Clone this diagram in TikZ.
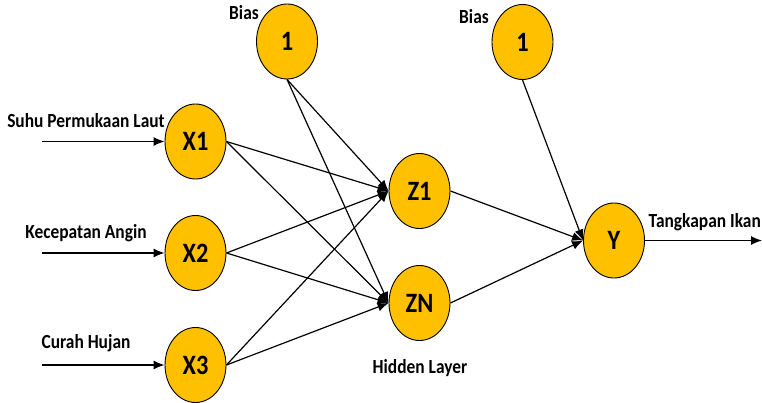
\documentclass[tikz,border=0pt]{standalone}
\usepackage{fontspec}
\setmainfont[FakeStretch=0.87]{Carlito}
\usetikzlibrary{shapes.geometric,arrows.meta}
\definecolor{nodegold}{HTML}{FFC000}
\begin{document}
\begin{tikzpicture}[x=1pt,y=-1pt,
  neuron/.style={ellipse,draw=black,line width=0.9pt,fill=nodegold,minimum width=61pt,minimum height=75pt,inner sep=0pt,font=\bfseries\fontsize{28}{30}\selectfont},
  lbl/.style={font=\bfseries\fontsize{20}{22}\selectfont,inner sep=0pt},
  conn/.style={line width=1.2pt,-{Latex[length=11pt,width=9pt]}}]
\useasboundingbox (0,0) rectangle (762,403);
% nodes
\node[neuron] (b1) at (287,41.5) {1};
\node[neuron] (b2) at (522.5,42) {1};
\node[neuron] (x1) at (195.5,141.5) {X1};
\node[neuron] (x2) at (195.5,253) {X2};
\node[neuron] (x3) at (195.5,365) {X3};
\node[neuron] (z1) at (419.5,191) {Z1};
\node[neuron] (zn) at (419.5,303) {ZN};
\node[neuron] (y) at (614,240.5) {Y};
% labels
\node[lbl,anchor=base] (lb1) at (244,19.5) {Bias};
\node[lbl,anchor=base] (lb2) at (474,24) {Bias};
\node[lbl,anchor=base] (lx1) at (86,128) {Suhu Permukaan Laut};
\node[lbl,anchor=base] (lx2) at (86,238) {Kecepatan Angin};
\node[lbl,anchor=base] (lx3) at (86,348) {Curah Hujan};
\node[lbl,anchor=base] (lh) at (420,373) {Hidden Layer};
\node[lbl,anchor=base east] (ly) at (761,228) {Tangkapan Ikan};
% input coordinates
\coordinate (i1) at (42,141.5);
\coordinate (i2) at (42,253);
\coordinate (i3) at (42,365);
\coordinate (o) at (762,240.5);
% connectors
\draw[conn] (i1) -- (x1.west);
\draw[conn] (i2) -- (x2.west);
\draw[conn] (i3) -- (x3.west);
\foreach \s in {x1,x2,x3}{
  \draw[conn] (\s.east) -- (z1.west);
  \draw[conn] (\s.east) -- (zn.west);
}
\draw[conn] (b1.south) -- (z1.west);
\draw[conn] (b1.south) -- (zn.west);
\draw[conn] (z1.east) -- (y.west);
\draw[conn] (zn.east) -- (y.west);
\draw[conn] (b2.south) -- (y.west);
\draw[conn] (y.east) -- (o);
\end{tikzpicture}
\end{document}
